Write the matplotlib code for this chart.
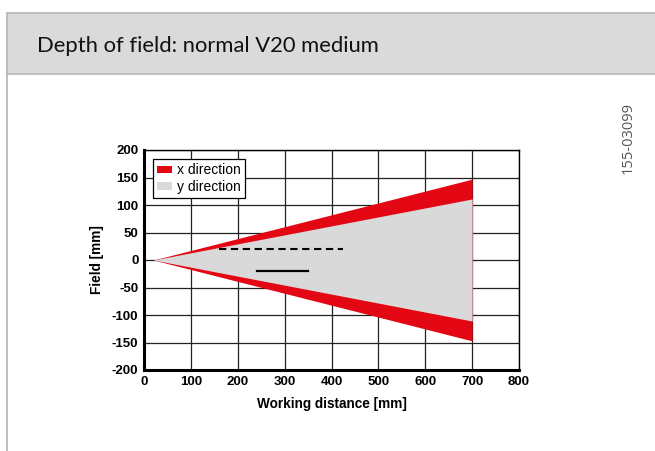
import matplotlib
matplotlib.use("Agg")
import matplotlib.pyplot as plt
from matplotlib.patches import Rectangle, Patch
from matplotlib.lines import Line2D

# Field size of the cone at the near and far working distances
distance = [20, 700]
x_field = [0, 147]
y_field = [0, 111]

# Depth-of-field markers
dof_dashed_x = [160, 425]
dof_dashed_y = [20, 20]
dof_solid_x = [240, 350]
dof_solid_y = [-20, -20]

x_ticks = [0, 100, 200, 300, 400, 500, 600, 700, 800]
y_ticks = [200, 150, 100, 50, 0, -50, -100, -150, -200]

RED = "#e30613"
GREY = "#d9d9d9"

fig = plt.figure(figsize=(6.55, 4.51), dpi=100)

# Header band with title
fig.patches.append(Rectangle((6.5 / 655, 1 - 74 / 451), 1.0, (74 - 13.5) / 451,
                             transform=fig.transFigure, facecolor="#dadada",
                             edgecolor="#b5b5b5", linewidth=1.2, zorder=0))
fig.lines.append(Line2D([6.5 / 655, 6.5 / 655], [0, 1 - 74 / 451],
                        transform=fig.transFigure, color="#b5b5b5", linewidth=1.2))
fig.text(37 / 655, 1 - 46 / 451, "Depth of field: normal V20 medium",
         fontsize=15.8, family="Lato", va="center", ha="left", color="#111111")
fig.text(628 / 655, 1 - 138 / 451, "155-03099", rotation=90, fontsize=10.5,
         family="Open Sans", color="#555555", va="center", ha="center")

ax = fig.add_axes([144 / 655, 1 - 370 / 451, 375 / 655, 220 / 451])

# Cone outlines: red (x direction) underneath, grey (y direction) on top
ax.fill_between(distance, [-v for v in x_field], x_field, color=RED, linewidth=0, zorder=3)
ax.fill_between(distance, [-v for v in y_field], y_field, color=GREY, linewidth=0, zorder=4)

ax.plot(dof_dashed_x, dof_dashed_y, color="black", linestyle=(0, (3.5, 2.2)),
        linewidth=1.5, zorder=5)
ax.plot(dof_solid_x, dof_solid_y, color="black", linewidth=1.6, zorder=5)

ax.set_xlim(0, 800)
ax.set_ylim(-200, 200)
ax.set_xticks(x_ticks)
ax.set_yticks(y_ticks)
ax.set_xticklabels([str(v) for v in x_ticks])
ax.set_yticklabels([str(v) for v in y_ticks])
ax.grid(True, color="#222222", linewidth=0.9, zorder=1)
ax.set_axisbelow(True)
ax.tick_params(length=0, pad=4, labelsize=9.5)
for lbl in ax.get_xticklabels() + ax.get_yticklabels():
    lbl.set_fontweight("bold")
    lbl.set_family("Liberation Sans")
for side, s in ax.spines.items():
    s.set_color("black")
    s.set_linewidth(1.0)
    s.set_zorder(6)
ax.spines["left"].set_linewidth(2.2)
ax.spines["bottom"].set_linewidth(2.2)

ax.set_xlabel("Working distance [mm]", fontsize=9.8, fontweight="bold",
              family="Liberation Sans", labelpad=7)
ax.set_ylabel("Field [mm]", fontsize=9.8, fontweight="bold",
              family="Liberation Sans", labelpad=6)

handles = [Patch(facecolor=RED, edgecolor="none", label="x direction"),
           Patch(facecolor=GREY, edgecolor="none", label="y direction")]
leg = ax.legend(handles=handles, loc="upper left", bbox_to_anchor=(0.024, 0.959),
                prop={"family": "Liberation Sans", "size": 10},
                frameon=True, fancybox=False, edgecolor="black", framealpha=1,
                borderpad=0.3, handlelength=1.1, handleheight=0.45,
                handletextpad=0.3, labelspacing=0.2, borderaxespad=0)
leg.get_frame().set_linewidth(0.9)
leg.set_zorder(7)

fig.savefig("out.png", dpi=100)
